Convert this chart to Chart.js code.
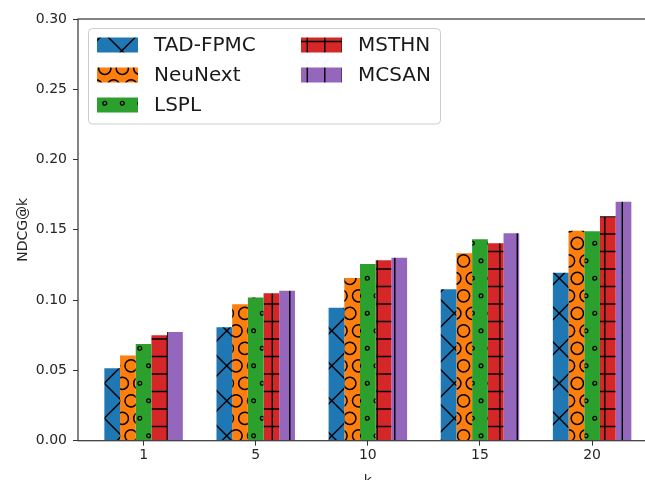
<!DOCTYPE html>
<html>
<head>
<meta charset="utf-8">
<title>NDCG@k</title>
<script src="https://cdn.jsdelivr.net/npm/chart.js"></script>
<style>
  html, body { margin: 0; padding: 0; background: #fff; overflow: hidden; }
  #wrap { width: 670px; height: 490px; }
</style>
</head>
<body>
<div id="wrap"><canvas id="ndcg" width="670" height="490"></canvas></div>
<script>
// values
var kLabels = ['1', '5', '10', '15', '20'];
var methods = ['TAD-FPMC', 'NeuNext', 'LSPL', 'MSTHN', 'MCSAN'];
var tadFpmc = [0.0515, 0.0807, 0.0946, 0.1077, 0.1195];
var neuNext = [0.0607, 0.0970, 0.1158, 0.1333, 0.1494];
var lspl    = [0.0688, 0.1018, 0.1257, 0.1433, 0.1490];
var msthn   = [0.0750, 0.1049, 0.1283, 0.1404, 0.1596];
var mcsan   = [0.0773, 0.1067, 0.1302, 0.1475, 0.1700];
var yTicks  = [0, 0.05, 0.10, 0.15, 0.20, 0.25, 0.30];

var canvas = document.getElementById('ndcg');
var ctx = canvas.getContext('2d');

// matplotlib-like hatch tiles (35px tile = 2 hatch units)
function hatch(fill, draw) {
  var c = document.createElement('canvas');
  c.width = 35; c.height = 35;
  var g = c.getContext('2d');
  g.fillStyle = fill;
  g.fillRect(0, 0, 35, 35);
  g.strokeStyle = '#000';
  g.lineWidth = 1.4;
  draw(g);
  return ctx.createPattern(c, 'repeat');
}
function circles(g, r, lw) {
  g.lineWidth = lw;
  for (var i = -1; i <= 3; i++) {
    for (var j = -1; j <= 1; j++) {
      g.beginPath(); g.arc(-0.2 + 17.5 * i, 33.3 + 35 * j, r, 0, Math.PI * 2); g.stroke();
      g.beginPath(); g.arc(8.55 + 17.5 * i, 15.8 + 35 * j, r, 0, Math.PI * 2); g.stroke();
    }
  }
}
function vlines(g) {
  for (var i = -1; i <= 2; i++) {
    g.beginPath(); g.moveTo(9.8 + 17.5 * i, 0); g.lineTo(9.8 + 17.5 * i, 35); g.stroke();
  }
}
var patX = hatch('#1f77b4', function (g) {
  for (var k = -2; k <= 2; k++) {
    g.beginPath(); g.moveTo(-5, -6 + 35 * k); g.lineTo(40, 39 + 35 * k); g.stroke();
    g.beginPath(); g.moveTo(-5, 37.6 + 35 * k); g.lineTo(40, -7.4 + 35 * k); g.stroke();
  }
});
var patO = hatch('#ff7f0e', function (g) { circles(g, 6.1, 1.5); });
var patDot = hatch('#2ca02c', function (g) { circles(g, 1.9, 1.3); });
var patPlus = hatch('#d62728', function (g) {
  for (var i = -1; i <= 2; i++) {
    g.beginPath(); g.moveTo(0, 6.5 + 17.5 * i); g.lineTo(35, 6.5 + 17.5 * i); g.stroke();
  }
  vlines(g);
});
var patBar = hatch('#9467bd', vlines);

function pts(arr) {
  return arr.map(function (v, i) { return { x: i, y: v }; });
}

var spines = {
  id: 'spines',
  afterDatasetsDraw: function (chart) {
    var a = chart.chartArea, c = chart.ctx;
    c.save();
    c.strokeStyle = '#333';
    c.lineWidth = 1.2;
    c.strokeRect(a.left, a.top, a.right - a.left, a.bottom - a.top);
    c.restore();
  }
};

var legendBox = {
  id: 'legendBox',
  afterDraw: function (chart) {
    var c = chart.ctx;
    c.save();
    c.fillStyle = 'rgba(255,255,255,0.8)';
    c.strokeStyle = '#cccccc';
    c.lineWidth = 1;
    c.beginPath();
    c.roundRect(88.5, 28.5, 352, 95.5, 4);
    c.fill();
    c.stroke();
    c.font = '20px "DejaVu Sans"';
    c.textBaseline = 'middle';
    chart.data.datasets.forEach(function (ds, i) {
      var col = Math.floor(i / 3), row = i % 3;
      var x = 97 + col * 204, y = 45 + row * 30;
      c.fillStyle = ds.backgroundColor;
      c.fillRect(x, y - 7.5, 41, 15);
      c.fillStyle = '#1a1a1a';
      c.fillText(ds.label, x + 57, y + 1);
    });
    c.restore();
  }
};

var series = [tadFpmc, neuNext, lspl, msthn, mcsan];
var fills = [patX, patO, patDot, patPlus, patBar];

var myChart = new Chart(ctx, {
  type: 'bar',
  data: {
    datasets: series.map(function (s, i) {
      return {
        label: methods[i],
        data: pts(s),
        backgroundColor: fills[i],
        borderWidth: 0,
        categoryPercentage: 0.7,
        barPercentage: 1.0
      };
    })
  },
  options: {
    responsive: false,
    animation: false,
    events: [],
    layout: { padding: { left: 0, top: 19, right: 12.3, bottom: 0 } },
    plugins: { legend: { display: false }, tooltip: { enabled: false } },
    scales: {
      x: {
        type: 'linear',
        min: -0.585,
        max: 4.585,
        offset: false,
        afterFit: function (s) { s.height = 49.3; },
        afterBuildTicks: function (s) {
          s.ticks = kLabels.map(function (l, i) { return { value: i }; });
        },
        grid: { display: true, drawOnChartArea: false, drawTicks: true, tickLength: 5, tickColor: '#333', offset: false },
        border: { display: false },
        ticks: {
          padding: 1,
          color: '#262626',
          font: { family: 'DejaVu Sans', size: 14 },
          maxRotation: 0,
          callback: function (v) { return kLabels[v]; }
        },
        title: {
          display: true,
          text: 'k',
          color: '#262626',
          font: { family: 'DejaVu Sans', size: 14 },
          padding: { top: 0, bottom: 0.5 }
        }
      },
      y: {
        min: 0,
        max: 0.30,
        afterFit: function (s) { s.width = 78; },
        afterBuildTicks: function (s) {
          s.ticks = yTicks.map(function (v) { return { value: v }; });
        },
        grid: { display: true, drawOnChartArea: false, drawTicks: true, tickLength: 5, tickColor: '#333' },
        border: { display: false },
        ticks: {
          padding: 6,
          color: '#262626',
          font: { family: 'DejaVu Sans', size: 14 },
          callback: function (v) { return v.toFixed(2); }
        },
        title: {
          display: true,
          text: 'NDCG@k',
          color: '#262626',
          font: { family: 'DejaVu Sans', size: 14 },
          padding: { top: 14.5, bottom: 0 }
        }
      }
    }
  },
  plugins: [spines, legendBox]
});
</script>
</body>
</html>
